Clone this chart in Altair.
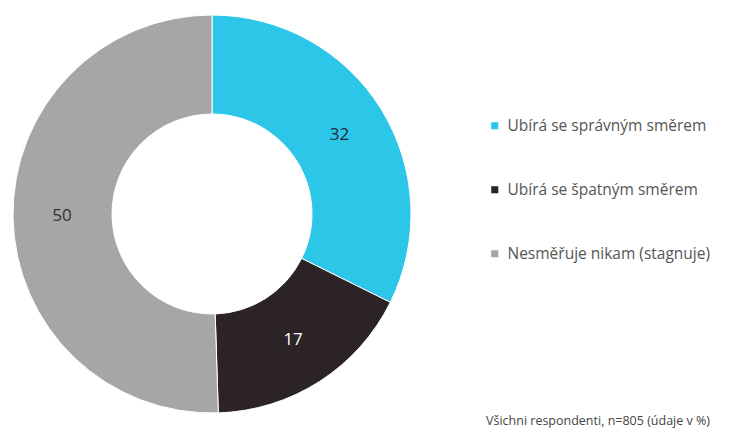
import altair as alt
import pandas as pd

categories = ["Ubírá se správným směrem", "Ubírá se špatným směrem", "Nesměřuje nikam (stagnuje)"]
values = [32, 17, 50]
colors = ["#2BC6E8", "#2B2326", "#A6A6A6"]
label_colors = ["#1F2D3A", "#FFFFFF", "#333333"]
note = ["Všichni respondenti, n=805 (údaje v %)"]

df = pd.DataFrame({
    "cat": categories,
    "value": values,
    "order": list(range(len(categories))),
    "lab": [str(v) for v in values],
    "lc": label_colors,
})

FONT = "Open Sans"
cx, cy = 204, 206

base = alt.Chart(df).encode(
    theta=alt.Theta("value:Q", stack=True),
    order=alt.Order("order:Q"),
)

arcs = base.mark_arc(outerRadius=199, innerRadius=100, stroke="#ffffff", strokeWidth=1).encode(
    color=alt.Color(
        "cat:N",
        scale=alt.Scale(domain=categories, range=colors),
        sort=categories,
        legend=alt.Legend(
            title=None,
            orient="none",
            legendX=479,
            legendY=110,
            symbolType="square",
            symbolSize=50,
            symbolStrokeWidth=0,
            labelFont=FONT,
            labelFontSize=15.5,
            labelColor="#555555",
            rowPadding=47,
            labelOffset=5,
            labelLimit=400,
        ),
    ),
    x=alt.value(cx),
    y=alt.value(cy),
)

labels = base.mark_text(radius=150, font=FONT, fontSize=17).encode(
    text="lab:N",
    color=alt.Color("lc:N", scale=None),
    x=alt.value(cx),
    y=alt.value(cy),
)

note_df = pd.DataFrame({"t": note})
note_layer = alt.Chart(note_df).mark_text(
    font=FONT, fontSize=12.5, align="left", baseline="middle", color="#444444"
).encode(text="t:N", x=alt.value(478), y=alt.value(413))

chart = alt.layer(arcs, labels, note_layer).properties(
    width=716, height=422, padding=0, autosize=alt.AutoSizeParams(type="none")
).configure(background="#ffffff").configure_view(stroke=None)

chart.save("out.html", embed_options={"renderer": "svg", "actions": False})
